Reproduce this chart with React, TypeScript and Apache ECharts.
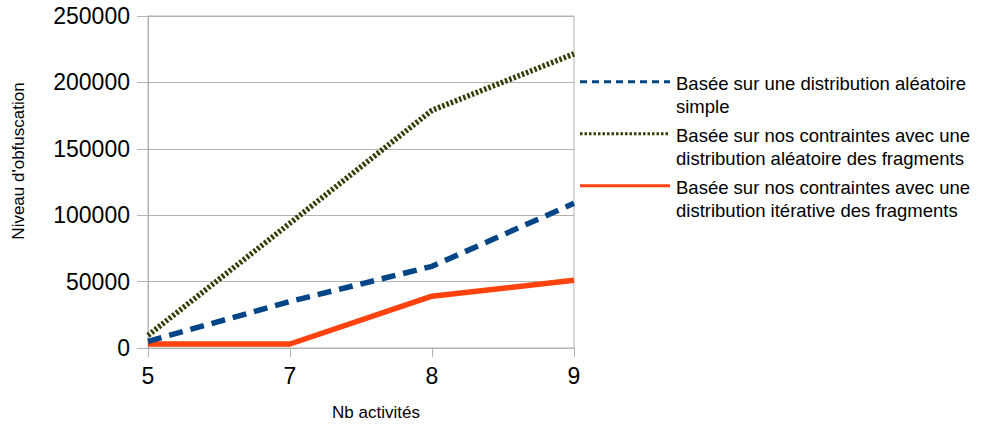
import React, { useEffect, useRef } from "react";
import * as echarts from "echarts";

const categories = ["5", "7", "8", "9"];
const seriesNames = [
  "Basée sur une distribution aléatoire simple",
  "Basée sur nos contraintes avec une distribution aléatoire des fragments",
  "Basée sur nos contraintes avec une distribution itérative des fragments",
];
const legendLabels = [
  "Basée sur une distribution aléatoire\nsimple",
  "Basée sur nos contraintes avec une\ndistribution aléatoire des fragments",
  "Basée sur nos contraintes avec une\ndistribution itérative des fragments",
];
const randomSimple = [5000, 35000, 61500, 109000];
const randomFragments = [9500, 94000, 179000, 221500];
const iterativeFragments = [3000, 3000, 39000, 51000];
const yTicks = [0, 50000, 100000, 150000, 200000, 250000];
const xTitle = "Nb activités";
const yTitle = "Niveau d'obfuscation";

const colors = ["#004586", "#314004", "#ff420e"];
const seriesDash: (number[] | "solid")[] = [[14, 8], [2.5, 2], "solid"];
const legendDash: (number[] | null)[] = [[7, 5], [2.5, 2], null];

const FONT = "'Liberation Sans', Arial, sans-serif";

export default function App() {
  const ref = useRef<HTMLDivElement>(null);
  useEffect(() => {
    if (!ref.current) return;
    const chart = echarts.init(ref.current, null, { renderer: "svg" });
    const data = [randomSimple, randomFragments, iterativeFragments];
    const legendGraphics: any[] = [];
    seriesNames.forEach((_, i) => {
      const ly = 81.7 + i * 52;
      legendGraphics.push({
        type: "line",
        shape: { x1: 580, y1: ly, x2: 670, y2: ly },
        style: {
          stroke: colors[i],
          lineWidth: 3,
          lineDash: legendDash[i] || undefined,
        },
        silent: true,
      });
      legendGraphics.push({
        type: "text",
        x: 676,
        y: ly - 9.5,
        style: {
          text: legendLabels[i],
          font: `18.5px ${FONT}`,
          lineHeight: 23,
          fill: "#000",
          verticalAlign: "top",
          align: "left",
        },
        silent: true,
      });
    });
    chart.setOption({
      animation: false,
      backgroundColor: "#fff",
      textStyle: { fontFamily: FONT },
      grid: {
        left: 148,
        right: 408,
        top: 16,
        bottom: 80,
        show: true,
        borderColor: "#b3b3b3",
        borderWidth: 1,
        backgroundColor: "transparent",
      },
      xAxis: {
        type: "category",
        data: categories,
        boundaryGap: false,
        axisLine: { lineStyle: { color: "#b3b3b3", width: 1 } },
        axisTick: { show: true, length: 9, lineStyle: { color: "#b3b3b3" } },
        axisLabel: { color: "#000", fontSize: 23, margin: 16, fontFamily: FONT },
        splitLine: { show: false },
      },
      yAxis: {
        type: "value",
        min: yTicks[0],
        max: yTicks[yTicks.length - 1],
        interval: yTicks[1] - yTicks[0],
        axisLine: { show: true, lineStyle: { color: "#b3b3b3", width: 1 } },
        axisTick: { show: true, length: 11, lineStyle: { color: "#b3b3b3" } },
        axisLabel: {
          color: "#000",
          fontSize: 23,
          margin: 18,
          fontFamily: FONT,
          formatter: (v: number) => String(v),
        },
        splitLine: { show: true, lineStyle: { color: "#b3b3b3", width: 1 } },
      },
      series: seriesNames.map((name, i) => ({
        name,
        type: "line",
        data: data[i],
        symbol: "none",
        lineStyle: { color: colors[i], width: 5.5, type: seriesDash[i] },
        itemStyle: { color: colors[i] },
        z: 3 - i,
      })),
      graphic: [
        ...legendGraphics,
        {
          type: "text",
          x: 376,
          y: 412,
          style: {
            text: xTitle,
            font: `17px ${FONT}`,
            fill: "#000",
            align: "center",
            verticalAlign: "middle",
          },
          silent: true,
        },
        {
          type: "text",
          x: 18,
          y: 161,
          rotation: Math.PI / 2,
          style: {
            text: yTitle,
            font: `17px ${FONT}`,
            fill: "#000",
            align: "center",
            verticalAlign: "middle",
          },
          silent: true,
        },
      ],
    });
    return () => chart.dispose();
  }, []);
  return (
    <div
      ref={ref}
      style={{ position: "fixed", left: 0, top: 0, width: 982, height: 428 }}
    />
  );
}
